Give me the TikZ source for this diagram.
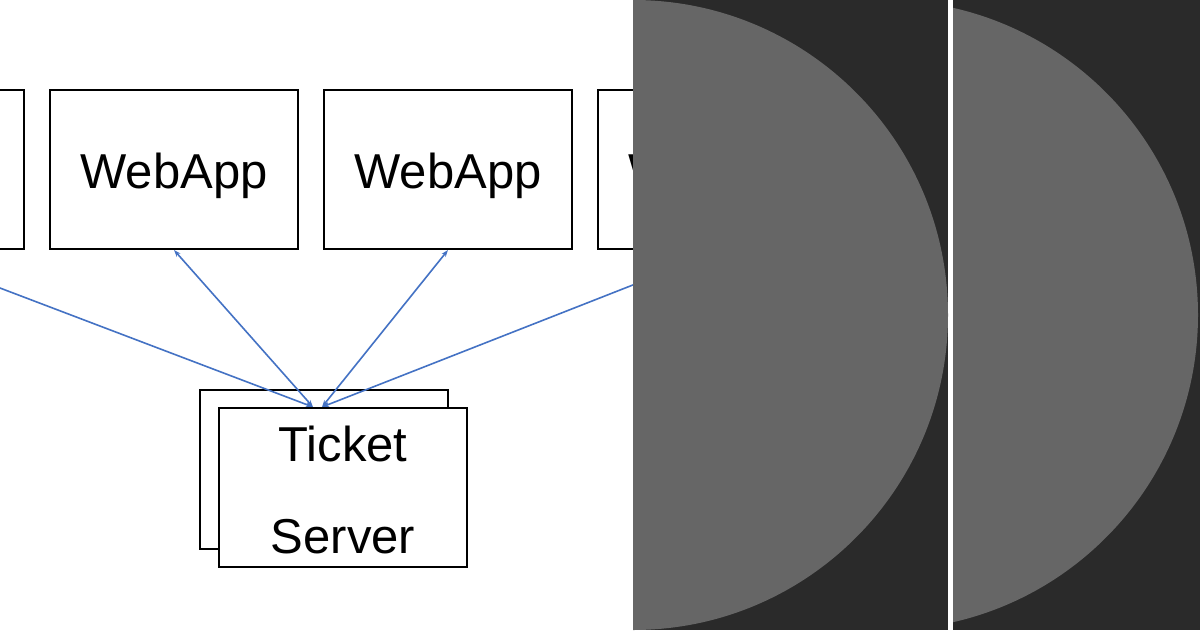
\documentclass[tikz,border=0pt]{standalone}
\usepackage{fontspec}
\setmainfont{Liberation Sans}
\usetikzlibrary{arrows.meta,calc}
\definecolor{linkblue}{HTML}{4472C4}
\definecolor{panel}{HTML}{2A2A2A}
\definecolor{disc}{HTML}{666666}
\begin{document}
\begin{tikzpicture}[x=1pt,y=-1pt,
  box/.style={draw=black,line width=2pt,minimum width=248pt,minimum height=159pt,inner sep=0pt,fill=white},
  lbl/.style={font=\fontsize{49}{49}\selectfont,anchor=base,inner sep=0pt},
  link/.style={draw=linkblue,line width=1.6pt,{Stealth[length=7pt,width=5pt]}-{Stealth[length=7pt,width=5pt]}}]
\useasboundingbox (0,0) rectangle (1200,630);
\fill[white] (0,0) rectangle (1200,630);
\begin{scope}
  \clip (0,0) rectangle (633,630);
  \node[box] (wa1) at (-100,169.5) {};
  \node[box] (wa2) at (174,169.5) {};
  \node[box] (wa3) at (448,169.5) {};
  \node[box] (wa4) at (722,169.5) {};
  \node[lbl] (l2) at (174,188) {WebApp};
  \node[lbl] (l3) at (448,188) {WebApp};
  \node[lbl] (l4) at (722,188) {WebApp};
  \node[box] (tsb) at (324,469) {};
  \node[box] (ts) at (343,487.5) {};
  \node[lbl] (tt) at (343,461) {Ticket};
  \node[lbl] (tsv) at (343,553) {Server};
  \coordinate (inL) at ($(ts.north)+(-30,0)$);
  \coordinate (inR) at ($(ts.north)+(-21,0)$);
  \draw[link] (wa1.south) -- (inL);
  \draw[link] (wa2.south) -- (inL);
  \draw[link] (wa3.south) -- (inR);
  \draw[link] (wa4.south) -- (inR);
\end{scope}
\fill[panel] (633,0) rectangle (948,630);
\fill[panel] (953,0) rectangle (1200,630);
\begin{scope}
  \clip (633,0) rectangle (948,630);
  \fill[disc] (633,315) circle[radius=315pt];
\end{scope}
\begin{scope}
  \clip (953,0) rectangle (1200,630);
  \fill[disc] (883,315) circle[radius=315pt];
\end{scope}
\end{tikzpicture}
\end{document}
